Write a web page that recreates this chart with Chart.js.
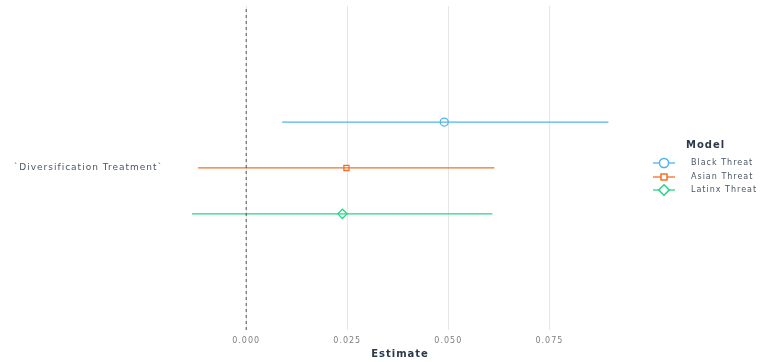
<!DOCTYPE html>
<html>
<head>
<meta charset="utf-8">
<script src="https://cdn.jsdelivr.net/npm/chart.js@4"></script>
<style>
  html, body { margin: 0; padding: 0; background: #fff; }
  #wrap { width: 777px; height: 362px; position: relative; }
</style>
</head>
<body>
<div id="wrap"><canvas id="myChart"></canvas></div>
<script>
// data
var term = "`Diversification Treatment`";
var models = ["Black Threat", "Asian Threat", "Latinx Threat"];
var estimates = [0.0490, 0.0248, 0.0238];
var lows = [0.0089, -0.0119, -0.0134];
var highs = [0.0896, 0.0614, 0.0609];
var dodge = [0.17, 0, -0.17];
var xTicks = [0, 0.025, 0.05, 0.075];

var colors = ["#4fb4f2", "#f0722a", "#26d48a"];
var shapes = ["circle", "rect", "rectRot"];
var sizes = [4, 3.6, 4.6];
var FONT = "'DejaVu Sans', sans-serif";

var datasets = [];
// dashed reference line at zero
datasets.push({
  data: [{ x: 0, y: 0.4 }, { x: 0, y: 1.6 }],
  showLine: true,
  borderColor: "#555555",
  borderWidth: 1,
  borderDash: [3, 3],
  pointRadius: 0,
});
for (var i = 0; i < models.length; i++) {
  // interval
  datasets.push({
    label: models[i] + " CI",
    data: [{ x: lows[i], y: 1 + dodge[i] }, { x: highs[i], y: 1 + dodge[i] }],
    showLine: true,
    borderColor: colors[i],
    borderWidth: 1.3,
    pointRadius: 0,
  });
  // point estimate
  datasets.push({
    label: models[i],
    data: [{ x: estimates[i], y: 1 + dodge[i] }],
    pointStyle: shapes[i],
    pointRadius: sizes[i],
    pointBackgroundColor: "#ffffff",
    pointBorderColor: colors[i],
    pointBorderWidth: 1.3,
  });
}

// wider text like the reference
const spacingPlugin = {
  id: "spacing",
  beforeDraw(chart) {
    chart.ctx.letterSpacing = "1px";
  },
};

// legend like ggplot: title and keys with line through marker
const legendPlugin = {
  id: "ggLegend",
  afterDraw(chart) {
    var ctx = chart.ctx;
    ctx.save();
    ctx.fillStyle = "#2b3a4a";
    ctx.font = "bold 10px " + FONT;
    ctx.textBaseline = "middle";
    ctx.textAlign = "left";
    ctx.fillText("Model", 686, 145);
    var ys = [163, 177, 190];
    for (var i = 0; i < models.length; i++) {
      var y = ys[i];
      ctx.strokeStyle = colors[i];
      ctx.lineWidth = 1.3;
      ctx.beginPath();
      ctx.moveTo(653, y);
      ctx.lineTo(675, y);
      ctx.stroke();
      ctx.fillStyle = "#ffffff";
      Chart.helpers.drawPoint(ctx, { pointStyle: shapes[i], radius: sizes[i] + 0.5, borderWidth: 1.3 }, 664, y);
      ctx.fill();
      ctx.stroke();
      ctx.fillStyle = "#4a5563";
      ctx.font = "8px " + FONT;
      ctx.fillText(models[i], 691, y);
    }
    ctx.restore();
  },
};

const config = {
  type: "scatter",
  data: { datasets: datasets },
  options: {
    responsive: true,
    maintainAspectRatio: false,
    animation: false,
    layout: { padding: { top: 4, right: 148, left: 0, bottom: 0 } },
    plugins: {
      legend: { display: false },
      tooltip: { enabled: false },
    },
    scales: {
      x: {
        type: "linear",
        min: -0.0186,
        max: 0.0947,
        afterBuildTicks: (scale) => {
          scale.ticks = xTicks.map((v) => ({ value: v }));
        },
        afterFit: (scale) => {
          scale.height = 32;
        },
        grid: { color: "#e6e6e6", lineWidth: 1, drawTicks: false },
        border: { display: false },
        ticks: {
          color: "#7f7f7f",
          font: { size: 8, family: FONT },
          padding: 6,
          callback: (v) => v.toFixed(3),
        },
        title: {
          display: true,
          text: "Estimate",
          color: "#2b3a4a",
          font: { size: 10, weight: "bold", family: FONT },
          padding: { top: -4, bottom: 2 },
        },
      },
      y: {
        type: "linear",
        min: 0.4,
        max: 1.6,
        afterBuildTicks: (scale) => {
          scale.ticks = [{ value: 1 }];
        },
        afterFit: (scale) => {
          scale.width = 171;
          scale.paddingTop = 0;
          scale.paddingBottom = 0;
        },
        grid: { display: false },
        border: { display: false },
        ticks: {
          color: "#4a5563",
          font: { size: 9, family: FONT },
          padding: 0,
          callback: () => term,
        },
      },
    },
  },
  plugins: [spacingPlugin, legendPlugin],
};

const myChart = new Chart(document.getElementById("myChart"), config);
</script>
</body>
</html>
